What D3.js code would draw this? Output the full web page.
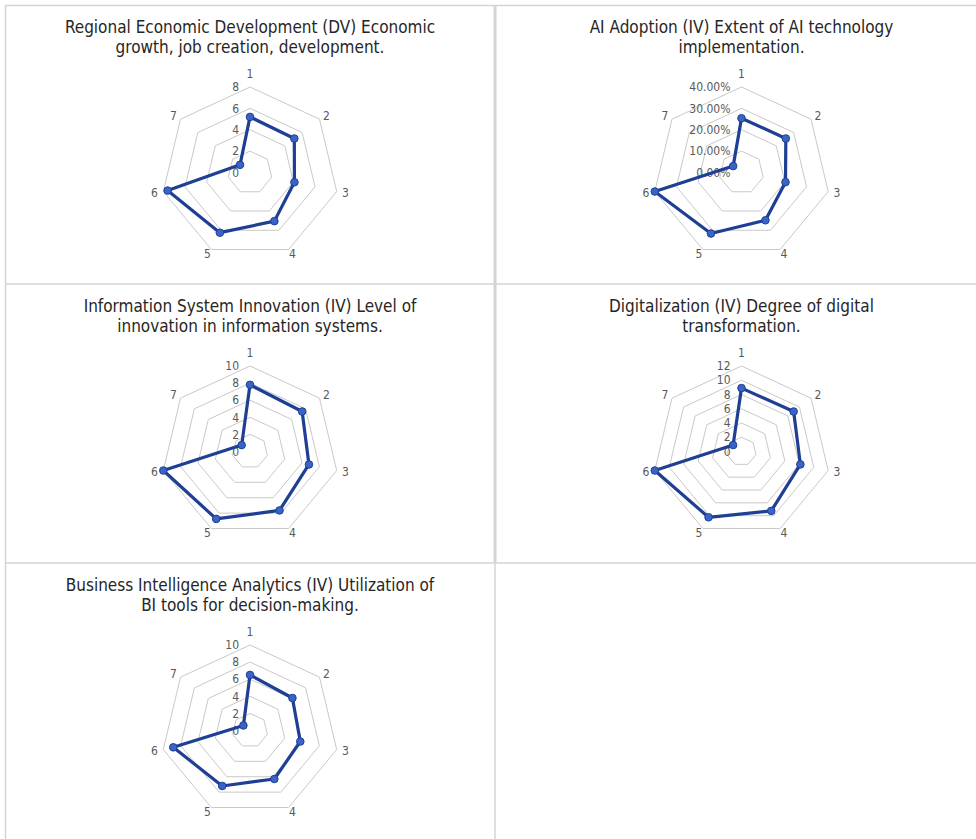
<!DOCTYPE html>
<html>
<head>
<meta charset="utf-8">
<script src="https://cdn.jsdelivr.net/npm/d3@7"></script>
<style>
  html, body { margin: 0; padding: 0; background: #ffffff; }
  svg { display: block; }
  .title { font-family: "Liberation Sans Narrow", "DejaVu Sans Condensed", "Open Sans", sans-serif; font-size: 17px; fill: #262626; }
  .axis-label, .tick-label { font-family: "Liberation Sans Narrow", "DejaVu Sans Condensed", "Open Sans", sans-serif; font-size: 12px; fill: #595959; }
</style>
</head>
<body>
<svg id="chart" width="976" height="839"></svg>
<script>
// Spoke categories shared by every radar
const axisLabels = ["1", "2", "3", "4", "5", "6", "7"];

// Series values per construct
const regionalDevelopment = [5.2, 5.1, 4.1, 5.05, 6.25, 7.6, 1.15];
const aiAdoption = [0.254, 0.255, 0.203, 0.248, 0.317, 0.40, 0.048];
const isInnovation = [7.8, 7.5, 6.8, 7.65, 8.75, 10, 1.2];
const digitalization = [8.9, 9.0, 8.15, 9.25, 10.25, 12, 1.45];
const biAnalytics = [6.5, 6.1, 5.8, 6.3, 7.2, 8.85, 0.95];

// Radial tick values per construct
const ticksRegional = [0, 2, 4, 6, 8];
const ticksAI = [0, 0.1, 0.2, 0.3, 0.4];
const ticksIS = [0, 2, 4, 6, 8, 10];
const ticksDigital = [0, 2, 4, 6, 8, 10, 12];
const ticksBI = [0, 2, 4, 6, 8, 10];

// Chart titles (two lines each)
const titleRegional = ["Regional Economic Development (DV) Economic", "growth, job creation, development."];
const titleAI = ["AI Adoption (IV) Extent of AI technology", "implementation."];
const titleIS = ["Information System Innovation (IV) Level of", "innovation in information systems."];
const titleDigital = ["Digitalization (IV) Degree of digital", "transformation."];
const titleBI = ["Business Intelligence Analytics (IV) Utilization of", "BI tools for decision-making."];

const panels = [
  { title: titleRegional, values: regionalDevelopment, ticks: ticksRegional, fmt: d3.format("d"), col: 0, row: 0 },
  { title: titleAI, values: aiAdoption, ticks: ticksAI, fmt: d3.format(".2%"), col: 1, row: 0 },
  { title: titleIS, values: isInnovation, ticks: ticksIS, fmt: d3.format("d"), col: 0, row: 1 },
  { title: titleDigital, values: digitalization, ticks: ticksDigital, fmt: d3.format("d"), col: 1, row: 1 },
  { title: titleBI, values: biAnalytics, ticks: ticksBI, fmt: d3.format("d"), col: 0, row: 2 }
];

const svg = d3.select("#chart");

// Table grid
const gridColor = "#d4d4d4";
const grid = svg.append("g");
grid.append("line").attr("x1", 5).attr("x2", 976).attr("y1", 5.5).attr("y2", 5.5).attr("stroke", gridColor).attr("stroke-width", 1.5);
grid.append("line").attr("x1", 5.5).attr("x2", 5.5).attr("y1", 5).attr("y2", 839).attr("stroke", gridColor).attr("stroke-width", 1.5);
grid.append("line").attr("x1", 5).attr("x2", 976).attr("y1", 284).attr("y2", 284).attr("stroke", gridColor).attr("stroke-width", 1.5);
grid.append("line").attr("x1", 5).attr("x2", 976).attr("y1", 563).attr("y2", 563).attr("stroke", gridColor).attr("stroke-width", 1.5);
grid.append("line").attr("x1", 495).attr("x2", 495).attr("y1", 5).attr("y2", 563).attr("stroke", gridColor).attr("stroke-width", 3);
grid.append("line").attr("x1", 495).attr("x2", 495).attr("y1", 563).attr("y2", 839).attr("stroke", gridColor).attr("stroke-width", 1.5);

const colX = [250, 741.5];
const rowY = [0, 279, 558];
const radius = 85.5;
const stretchX = 1.04;
const lineColor = "#1f3f95";
const markerFill = "#3a63c6";

const angle = d3.scalePoint().domain(axisLabels).range([0, 2 * Math.PI * (axisLabels.length - 1) / axisLabels.length]);

panels.forEach(p => {
  const cx = colX[p.col];
  const top = rowY[p.row];
  const cy = top + 172.5;
  const g = svg.append("g");

  // Title
  p.title.forEach((line, i) => {
    g.append("text").attr("class", "title")
      .attr("x", cx).attr("y", top + 33 + i * 20)
      .attr("text-anchor", "middle").text(line);
  });

  const r = d3.scaleLinear().domain([0, d3.max(p.ticks)]).range([0, radius]);
  const pt = (cat, v) => {
    const a = angle(cat);
    return [cx + r(v) * stretchX * Math.sin(a), cy - r(v) * Math.cos(a)];
  };

  // Rings
  const ring = d3.line().curve(d3.curveLinearClosed);
  p.ticks.filter(t => t > 0).forEach(t => {
    g.append("path")
      .attr("d", ring(axisLabels.map(c => pt(c, t))))
      .attr("fill", "none").attr("stroke", "#c9c9c9").attr("stroke-width", 1);
  });

  // Radial tick labels along the first spoke
  g.selectAll(".tick-label").data(p.ticks).join("text")
    .attr("class", "tick-label")
    .attr("x", cx - 11)
    .attr("y", t => cy - r(t))
    .attr("dy", "0.35em")
    .attr("text-anchor", "end")
    .text(t => p.fmt(t));

  // Spoke labels
  const maxV = d3.max(p.ticks);
  g.selectAll(".axis-label").data(axisLabels).join("text")
    .attr("class", "axis-label")
    .attr("x", c => pt(c, maxV)[0] + 9 * Math.sin(angle(c)))
    .attr("y", c => {
      const k = Math.cos(angle(c)) > 0.99 ? 13 : 5;
      return pt(c, maxV)[1] - k * Math.cos(angle(c));
    })
    .attr("dy", "0.35em")
    .attr("text-anchor", "middle")
    .text(c => c);

  // Series
  const pts = axisLabels.map((c, i) => pt(c, p.values[i]));
  g.append("path")
    .attr("d", ring(pts))
    .attr("fill", "none").attr("stroke", lineColor)
    .attr("stroke-width", 3.2).attr("stroke-linejoin", "round");
  g.selectAll(".marker").data(pts).join("circle")
    .attr("class", "marker")
    .attr("cx", d => d[0]).attr("cy", d => d[1]).attr("r", 3.8)
    .attr("fill", markerFill).attr("stroke", lineColor).attr("stroke-width", 1);
});
</script>
</body>
</html>
